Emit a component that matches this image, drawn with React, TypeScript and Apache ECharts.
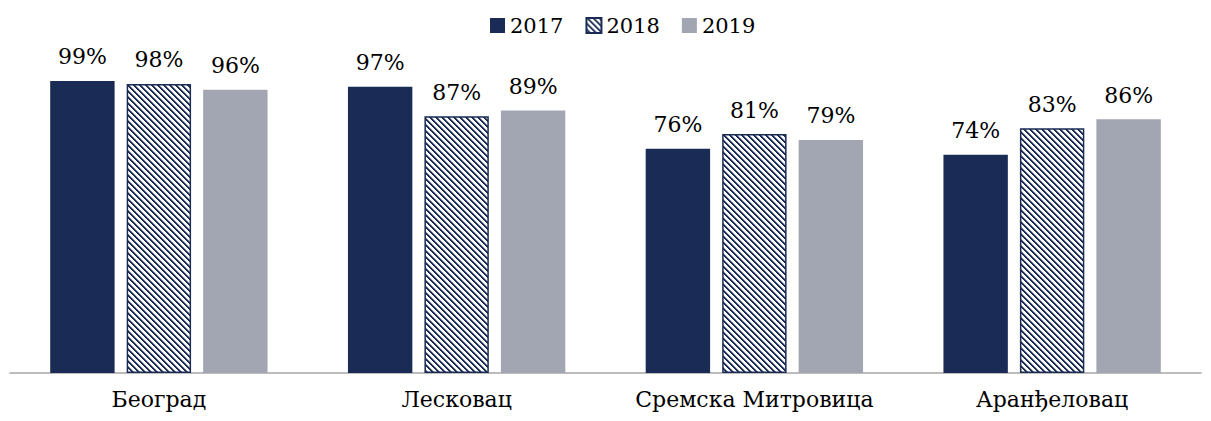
import React, { useEffect, useRef } from "react";
import * as echarts from "echarts";

const categories = ["Београд", "Лесковац", "Сремска Митровица", "Аранђеловац"];
const seriesNames = ["2017", "2018", "2019"];
const values2017 = [99, 97, 76, 74];
const values2018 = [98, 87, 81, 83];
const values2019 = [96, 89, 79, 86];

function makePattern(): HTMLCanvasElement {
  const n = 6;
  const c = document.createElement("canvas");
  c.width = n;
  c.height = n;
  const ctx = c.getContext("2d")!;
  ctx.fillStyle = "#ffffff";
  ctx.fillRect(0, 0, n, n);
  for (let i = 0; i < n; i++) {
    ctx.fillStyle = "#1a2b55";
    ctx.fillRect(i, i, 1, 1);
    ctx.fillRect((i + 1) % n, i, 1, 1);
    ctx.fillStyle = "#8a93a8";
    ctx.fillRect((i + 2) % n, i, 1, 1);
  }
  return c;
}

export default function App() {
  const ref = useRef<HTMLDivElement>(null);
  useEffect(() => {
    if (!ref.current) return;
    const chart = echarts.init(ref.current, undefined, { renderer: "svg" });
    const font = "DejaVu Serif";
    const pattern = makePattern();
    const label = {
      show: true,
      position: "top" as const,
      distance: 13,
      formatter: "{c}%",
      fontFamily: font,
      fontSize: 22,
      color: "#000",
    };
    chart.setOption({
      animation: false,
      textStyle: { fontFamily: font },
      legend: {
        top: 10,
        left: 485,
        itemWidth: 15,
        itemHeight: 15,
        itemGap: 22,
        icon: "rect",
        textStyle: { fontFamily: font, fontSize: 21, color: "#000" },
        data: seriesNames,
      },
      grid: { left: 10, right: 10, top: 78, bottom: 48, containLabel: false },
      xAxis: {
        type: "category",
        data: categories,
        axisLine: { lineStyle: { color: "#a6a6a6", width: 1.5 } },
        axisTick: { show: false },
        axisLabel: { interval: 0, fontFamily: font, fontSize: 22, color: "#000", margin: 15 },
      },
      yAxis: { type: "value", min: 0, max: 100, show: false, splitLine: { show: false } },
      series: [
        {
          name: seriesNames[0],
          type: "bar",
          data: values2017,
          barGap: "18.75%",
          barCategoryGap: "27%",
          itemStyle: { color: "#1a2b55" },
          label,
        },
        {
          name: seriesNames[1],
          type: "bar",
          data: values2018,
          itemStyle: {
            color: { image: pattern, repeat: "repeat" },
            borderColor: "#1a2b55",
            borderWidth: 1.5,
          },
          label,
        },
        {
          name: seriesNames[2],
          type: "bar",
          data: values2019,
          itemStyle: { color: "#a2a6b2" },
          label,
        },
      ],
    });
    return () => chart.dispose();
  }, []);
  return <div ref={ref} style={{ width: 1211, height: 421, margin: -8 }} />;
}
